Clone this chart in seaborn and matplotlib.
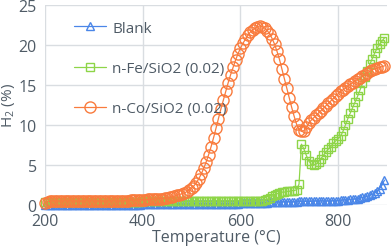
import numpy as np
import pandas as pd
import matplotlib
matplotlib.use("Agg")
import matplotlib.pyplot as plt
import seaborn as sns

# ─── data (5 °C steps) ───────────────────────────────────────────────────────
temperature = np.arange(200, 900, 5)

blank = [
    0.0, 0.0, 0.0, 0.0, 0.0, 0.0, 0.0, 0.0, 0.0, 0.0,
    0.0, 0.0, 0.0, 0.0, 0.0, 0.0, 0.0, 0.0, 0.0, 0.0,
    0.05, 0.05, 0.05, 0.05, 0.05, 0.05, 0.05, 0.05, 0.05, 0.05,
    0.05, 0.05, 0.05, 0.05, 0.05, 0.05, 0.05, 0.05, 0.05, 0.05,
    0.1, 0.1, 0.1, 0.1, 0.1, 0.1, 0.1, 0.1, 0.1, 0.1,
    0.1, 0.1, 0.1, 0.1, 0.1, 0.1, 0.1, 0.1, 0.1, 0.1,
    0.15, 0.15, 0.15, 0.15, 0.15, 0.15, 0.15, 0.15, 0.15, 0.15,
    0.15, 0.15, 0.15, 0.15, 0.15, 0.15, 0.15, 0.15, 0.15, 0.15,
    0.2, 0.2, 0.2, 0.2, 0.25, 0.25, 0.25, 0.25, 0.3, 0.3,
    0.3, 0.3, 0.35, 0.35, 0.35, 0.35, 0.35, 0.4, 0.4, 0.4,
    0.4, 0.4, 0.4, 0.4, 0.45, 0.45, 0.45, 0.45, 0.45, 0.45,
    0.5, 0.5, 0.5, 0.5, 0.5, 0.5, 0.5, 0.5, 0.55, 0.55,
    0.55, 0.6, 0.6, 0.65, 0.65, 0.7, 0.7, 0.75, 0.8, 0.85,
    0.95, 1.0, 1.1, 1.2, 1.35, 1.5, 1.75, 2.05, 2.5, 3.1,
]

fe_sio2 = [
    0.4, 0.4, 0.4, 0.4, 0.4, 0.4, 0.4, 0.4, 0.4, 0.4,
    0.4, 0.4, 0.4, 0.4, 0.4, 0.4, 0.4, 0.4, 0.4, 0.4,
    0.4, 0.4, 0.4, 0.4, 0.4, 0.4, 0.4, 0.4, 0.4, 0.4,
    0.4, 0.4, 0.4, 0.4, 0.4, 0.4, 0.4, 0.4, 0.4, 0.4,
    0.45, 0.45, 0.45, 0.45, 0.45, 0.45, 0.45, 0.45, 0.45, 0.45,
    0.45, 0.45, 0.45, 0.45, 0.45, 0.45, 0.45, 0.45, 0.45, 0.45,
    0.45, 0.45, 0.45, 0.45, 0.45, 0.45, 0.45, 0.45, 0.45, 0.45,
    0.5, 0.5, 0.5, 0.5, 0.5, 0.5, 0.5, 0.5, 0.5, 0.5,
    0.5, 0.5, 0.5, 0.5, 0.5, 0.5, 0.5, 0.5, 0.5, 0.55,
    0.6, 0.7, 0.9, 1.1, 1.3, 1.4, 1.5, 1.6, 1.6, 1.7,
    1.7, 1.8, 1.8, 1.9, 2.6, 7.6, 7.0, 6.2, 5.5, 5.1,
    5.0, 5.1, 5.4, 5.8, 6.2, 6.6, 7.0, 7.3, 7.7, 8.0,
    8.3, 8.6, 9.2, 10.0, 10.8, 11.5, 12.2, 12.9, 13.6, 14.4,
    15.2, 16.0, 16.8, 17.6, 18.3, 19.0, 19.6, 20.1, 20.5, 20.9,
]

co_sio2 = [
    0.2, 0.4, 0.5, 0.5, 0.5, 0.5, 0.5, 0.5, 0.5, 0.5,
    0.5, 0.5, 0.5, 0.5, 0.5, 0.5, 0.5, 0.5, 0.5, 0.5,
    0.5, 0.5, 0.5, 0.5, 0.5, 0.5, 0.5, 0.5, 0.5, 0.5,
    0.5, 0.5, 0.55, 0.55, 0.55, 0.6, 0.6, 0.6, 0.6, 0.65,
    0.65, 0.65, 0.7, 0.7, 0.7, 0.75, 0.75, 0.8, 0.8, 0.85,
    0.9, 0.95, 1.0, 1.1, 1.2, 1.3, 1.4, 1.5, 1.65, 1.85,
    2.1, 2.4, 2.8, 3.3, 3.9, 4.6, 5.4, 6.3, 7.3, 8.4,
    9.6, 10.8, 12.0, 13.1, 14.2, 15.3, 16.3, 17.2, 18.1, 18.9,
    19.6, 20.2, 20.7, 21.2, 21.6, 21.9, 22.1, 22.3, 22.4, 22.3,
    22.1, 21.8, 21.4, 20.8, 20.1, 19.2, 18.2, 17.0, 15.8, 14.6,
    13.4, 12.2, 11.1, 10.1, 9.4, 9.2, 9.3, 9.7, 10.2, 10.6,
    10.9, 11.2, 11.5, 11.8, 12.1, 12.4, 12.7, 13.0, 13.3, 13.6,
    13.9, 14.2, 14.4, 14.6, 14.9, 15.1, 15.3, 15.5, 15.7, 15.9,
    16.1, 16.3, 16.5, 16.7, 16.9, 17.0, 17.1, 17.2, 17.3, 17.4,
]

labels = ["Blank", "n-Fe/SiO2 (0.02)", "n-Co/SiO2 (0.02)"]
x_ticks = [200, 400, 600, 800]
y_ticks = [0, 5, 10, 15, 20, 25]

# ─── style ───────────────────────────────────────────────────────────────────
sns.set_theme(style="whitegrid")
plt.rcParams.update({
    "font.family": ["Open Sans", "DejaVu Sans"],
    "mathtext.fontset": "custom",
    "mathtext.rm": "Open Sans",
    "grid.color": "#D9DDE1",
    "grid.linewidth": 1.0,
})
text_color = "#4F5B66"

fig = plt.figure(figsize=(3.92, 2.53), dpi=100)
ax = fig.add_axes([0.115, 0.186, 0.872, 0.79])

series = [
    (blank,   "#4A86E8", "^", 6.0),
    (fe_sio2, "#8ED548", "s", 6.4),
    (co_sio2, "#F97B3D", "o", 8.0),
]
for (vals, color, marker, ms), label in zip(series, labels):
    sns.lineplot(x=temperature, y=vals, ax=ax, color=color, lw=0.9,
                 marker=marker, markersize=ms, markerfacecolor="none",
                 markeredgecolor=color, markeredgewidth=1.0,
                 label=label, clip_on=False)

ax.set_xlim(200, 900)
ax.set_ylim(0, 25)
ax.set_xticks(x_ticks)
ax.set_yticks(y_ticks)
ax.tick_params(length=0, labelsize=11.5, colors=text_color)
ax.tick_params(axis="y", pad=6)
ax.tick_params(axis="x", pad=6)
for s in ax.spines.values():
    s.set_visible(False)
ax.grid(True)

ax.set_xlabel("Temperature (°C)", fontsize=11.5, color=text_color, labelpad=0)
ax.set_ylabel("H$_\\mathregular{2}$ (%)", fontsize=11, color=text_color)
ax.yaxis.set_label_coords(-0.082, 0.5)

leg = ax.legend(loc="upper left", bbox_to_anchor=(0.045, 0.99), frameon=False,
                fontsize=11, labelspacing=1.65, handlelength=2.1,
                handletextpad=0.4, numpoints=1, markerscale=1.0)
for t in leg.get_texts():
    t.set_color(text_color)

plt.savefig("out.png", dpi=100)
plt.close()
